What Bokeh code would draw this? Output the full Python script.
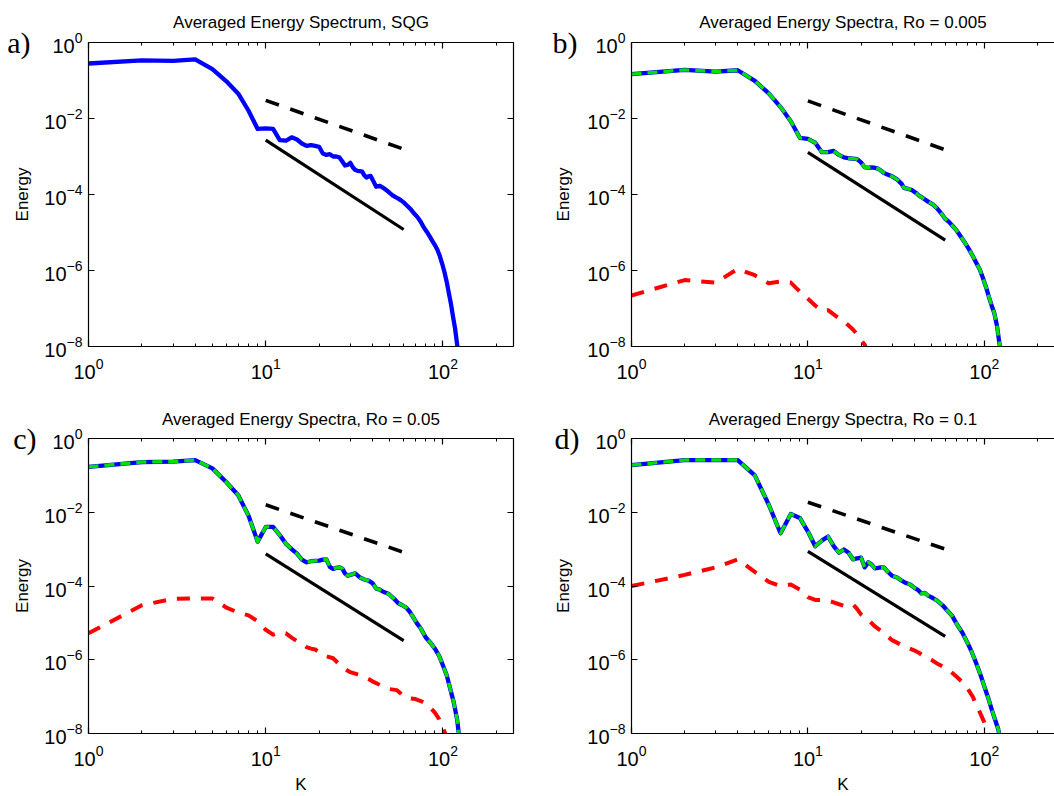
from bokeh.plotting import figure
from bokeh.models import FixedTicker, LogAxis, Range1d, CustomJSTickFormatter
from bokeh.layouts import gridplot
from bokeh.embed import file_html
from bokeh.resources import INLINE

FONT = "Liberation Sans"
SERIF = "Liberation Serif"

# ---------------- data ----------------
titles = ["Averaged Energy Spectrum, SQG",
          "Averaged Energy Spectra, Ro = 0.005",
          "Averaged Energy Spectra, Ro = 0.05",
          "Averaged Energy Spectra, Ro = 0.1"]
tags = ["a)", "b)", "c)", "d)"]

x_major = [1, 10, 100]
x_minor = [2, 3, 4, 5, 6, 7, 8, 9, 20, 30, 40, 50, 60, 70, 80, 90, 200]
y_major = [1e-8, 1e-6, 1e-4, 1e-2, 1]

# reference slopes (k^-5/3 dashed, k^-3 solid)
ref_k = [10, 60]
ref53_a = [0.030, 1.56e-3]
ref3_a = [2.7e-3, 1.2e-5]
ref53_b = [0.029, 1.5e-3]
ref3_b = [1.28e-3, 6.3e-6]
ref53_c = [0.0159, 8.2e-4]
ref3_c = [7.4e-4, 3.3e-6]
ref53_d = [0.0187, 1.0e-3]
ref3_d = [8.7e-4, 4.3e-6]

# a) SQG
k_a = [1, 2, 3, 4, 5, 6, 7, 8, 9, 10, 11, 12, 13, 14, 15, 16, 17, 18, 19, 20,
       21, 22, 23, 24, 25, 26, 27, 28, 29, 30, 31, 32, 33, 34, 35, 36, 37, 38, 39, 40,
       42, 44, 46, 48, 50, 52, 54, 56, 58, 60,
       63, 66, 69, 72, 75, 78, 81, 84, 87, 90, 93, 96, 99, 102, 105, 108, 111, 114, 117, 120, 122]
e_a = [0.28, 0.34, 0.33, 0.36, 0.20, 0.095, 0.045, 0.016, 0.0053, 0.0055,
       0.0053, 0.0027, 0.0026, 0.0032, 0.0028, 0.0022, 0.0019, 0.0020, 0.0019, 0.0018,
       0.0012, 0.0011, 0.00115, 0.0010, 0.0010, 0.00095, 0.00075, 0.00058, 0.00060, 0.00068,
       0.00052, 0.00044, 0.00042, 0.00041, 0.00040, 0.00032, 0.00028, 0.00030, 0.00031, 0.00025,
       0.00016, 0.00017, 0.00015, 0.00013, 0.00011, 9.5e-5, 8.5e-5, 7.8e-5, 7.0e-5, 6.2e-5,
       5.0e-5, 4.0e-5, 3.1e-5, 2.5e-5, 1.9e-5, 1.35e-5, 1.05e-5, 8.0e-6, 6.0e-6, 4.7e-6,
       3.5e-6, 2.4e-6, 1.5e-6, 9e-7, 5e-7, 2.5e-7, 1.3e-7, 6e-8, 3e-8, 1.2e-8, 6e-9]

# b) Ro = 0.005
k_b = [1, 2, 3, 4, 5, 6, 7, 8, 9, 10, 11, 12, 13, 14, 15, 16, 17, 18, 19, 20,
       21, 22, 23, 24, 25, 26, 27, 28, 30, 32, 34, 35, 37, 39, 41, 43, 45,
       48, 51, 54, 57, 60, 63, 66, 70, 74, 78, 82, 86, 90, 94, 98, 102, 106, 110, 114, 118, 121, 124]
e_b_total = [0.147, 0.19, 0.172, 0.186, 0.098, 0.046, 0.020, 0.0085, 0.0031, 0.0029,
             0.0023, 0.0013, 0.0013, 0.0014, 0.0011, 0.00095, 0.00090, 0.00088, 0.00085, 0.00070,
             0.00052, 0.00051, 0.00052, 0.00050, 0.00048, 0.00042, 0.00037, 0.00034,
             0.00030, 0.00025, 0.00019, 0.00015, 0.00014, 0.00013, 0.00011, 9.0e-5, 8.0e-5,
             6.5e-5, 5.5e-5, 4.3e-5, 3.2e-5, 2.3e-5, 1.9e-5, 1.5e-5,
             1.1e-5, 7.5e-6, 5.2e-6, 3.6e-6, 2.4e-6, 1.6e-6, 1.1e-6, 6.5e-7, 3.8e-7, 2.1e-7,
             1.2e-7, 7.5e-8, 3.5e-8, 1.5e-8, 7e-9]
e_b_balanced = [0.147, 0.19, 0.172, 0.186, 0.098, 0.046, 0.020, 0.0085, 0.0031, 0.0029,
                0.0023, 0.0013, 0.0013, 0.0014, 0.0011, 0.00095, 0.00090, 0.00088, 0.00085, 0.00070,
                0.00052, 0.00051, 0.00052, 0.00050, 0.00048, 0.00042, 0.00037, 0.00034,
                0.00030, 0.00025, 0.00019, 0.00015, 0.00014, 0.00013, 0.00011, 9.0e-5, 8.0e-5,
                6.5e-5, 5.5e-5, 4.3e-5, 3.2e-5, 2.3e-5, 1.9e-5, 1.5e-5,
                1.1e-5, 7.5e-6, 5.2e-6, 3.6e-6, 2.4e-6, 1.6e-6, 1.1e-6, 6.5e-7, 3.8e-7, 2.1e-7,
                1.2e-7, 7.5e-8, 3.5e-8, 1.5e-8, 7e-9]
k_b_red = [1, 2, 3, 4, 5, 6, 7, 8, 9, 10, 11, 12, 13, 14, 15, 16, 17, 18, 19, 20, 21, 22]
e_b_red = [2.2e-7, 5.6e-7, 4.8e-7, 1.1e-6, 7.5e-7, 4.6e-7, 5.1e-7, 4.8e-7, 2.8e-7, 1.8e-7,
           1.2e-7, 8.7e-8, 9e-8, 7e-8, 5.5e-8, 4.5e-8, 3.6e-8, 2.8e-8, 2.1e-8, 1.5e-8, 1.1e-8, 7e-9]

# c) Ro = 0.05
k_c = [1, 2, 3, 4, 5, 6, 7, 8, 9, 10, 11, 12, 13, 14, 15, 16, 17, 18, 19, 20,
       21, 22, 23, 24, 25, 26, 27, 28, 29, 30, 32, 34, 36, 38, 40, 42, 44, 46, 48, 50,
       53, 56, 59, 62, 65, 68, 71, 75, 80, 85, 90, 95, 100, 105, 110, 115, 120, 124]
e_c_total = [0.17, 0.23, 0.235, 0.26, 0.155, 0.065, 0.029, 0.008, 0.0016, 0.0040,
             0.0040, 0.0024, 0.0014, 0.0010, 0.00075, 0.00052, 0.00044, 0.00047, 0.00048, 0.00049,
             0.00052, 0.00053, 0.00033, 0.00029, 0.00031, 0.00032, 0.00030, 0.00022, 0.00019, 0.00020,
             0.00022, 0.00017, 0.00015, 0.00014, 0.00012, 8.5e-5, 8.0e-5, 7.0e-5, 6.5e-5, 5.8e-5,
             4.5e-5, 3.4e-5, 3.0e-5, 2.6e-5, 2.0e-5, 1.4e-5, 1.0e-5,
             7.0e-6, 4.0e-6, 2.9e-6, 2.0e-6, 1.3e-6, 7.0e-7, 3.8e-7, 1.6e-7, 7.0e-8, 2.5e-8, 7e-9]
e_c_balanced = [0.17, 0.23, 0.235, 0.26, 0.155, 0.065, 0.029, 0.008, 0.0016, 0.0040,
                0.0040, 0.0024, 0.0014, 0.0010, 0.00075, 0.00052, 0.00044, 0.00047, 0.00048, 0.00049,
                0.00052, 0.00053, 0.00033, 0.00029, 0.00031, 0.00032, 0.00030, 0.00022, 0.00019, 0.00020,
                0.00022, 0.00017, 0.00015, 0.00014, 0.00012, 8.5e-5, 8.0e-5, 7.0e-5, 6.5e-5, 5.8e-5,
                4.5e-5, 3.4e-5, 3.0e-5, 2.6e-5, 2.0e-5, 1.4e-5, 1.0e-5,
                7.0e-6, 4.0e-6, 2.9e-6, 2.0e-6, 1.3e-6, 7.0e-7, 3.8e-7, 1.6e-7, 7.0e-8, 2.5e-8, 7e-9]
k_c_red = [1, 2, 3, 4, 5, 6, 7, 8, 9, 10, 11, 12, 13, 14, 15, 16, 17, 18, 19, 20, 21, 22,
           24, 26, 28, 30, 32, 35, 38, 40, 43, 46, 50, 55, 58, 61, 65, 70, 75, 80, 85, 90, 95, 100, 104, 107]
e_c_red = [5.2e-6, 3.0e-5, 4.5e-5, 4.6e-5, 4.6e-5, 2.6e-5, 1.9e-5, 1.6e-5, 1.1e-5, 6.5e-6,
           4.8e-6, 5.5e-6, 5.2e-6, 4.0e-6, 3.2e-6, 2.7e-6, 2.2e-6, 2.0e-6, 1.9e-6, 1.6e-6,
           1.3e-6, 1.25e-6, 1.1e-6, 7.5e-7, 5.6e-7, 4.6e-7, 4.2e-7, 3.6e-7, 3.0e-7, 2.6e-7,
           2.2e-7, 1.9e-7, 1.6e-7, 1.5e-7, 1.2e-7, 9.5e-8, 9.0e-8, 8.6e-8, 7.6e-8, 6.5e-8,
           5.0e-8, 3.7e-8, 2.5e-8, 1.4e-8, 9e-9, 6e-9]

# d) Ro = 0.1
k_d = [1, 2, 3, 4, 5, 6, 7, 8, 9, 10, 11, 12, 13, 14, 15, 16, 17, 18, 19, 20,
       21, 22, 23, 24, 25, 26, 27, 28, 30, 32, 34, 36, 38, 40, 42, 44, 46, 48, 50,
       54, 58, 62, 66, 70, 75, 80, 85, 90, 95, 100, 105, 110, 115, 120, 123]
e_d_total = [0.19, 0.26, 0.26, 0.26, 0.10, 0.016, 0.0027, 0.0090, 0.0070, 0.0030,
             0.0012, 0.0017, 0.0022, 0.0012, 0.0008, 0.00098, 0.00080, 0.00053, 0.00056, 0.00059,
             0.00032, 0.00044, 0.00038, 0.00030, 0.00031, 0.00032, 0.00032, 0.00026,
             0.00019, 0.00017, 0.00014, 0.00012, 0.00011, 9.0e-5, 7.9e-5, 6.3e-5, 6.5e-5, 5.5e-5, 5.0e-5,
             4.0e-5, 3.0e-5, 2.1e-5, 1.5e-5, 9.0e-6, 5.5e-6, 3.0e-6, 1.6e-6, 8.0e-7, 4.0e-7,
             1.9e-7, 9.5e-8, 4.6e-8, 2.4e-8, 1.3e-8, 7e-9]
e_d_balanced = [0.19, 0.26, 0.26, 0.26, 0.10, 0.016, 0.0027, 0.0090, 0.0070, 0.0030,
                0.0012, 0.0017, 0.0022, 0.0012, 0.0008, 0.00098, 0.00080, 0.00053, 0.00056, 0.00059,
                0.00032, 0.00044, 0.00038, 0.00030, 0.00031, 0.00032, 0.00032, 0.00026,
                0.00019, 0.00017, 0.00014, 0.00012, 0.00011, 9.0e-5, 7.9e-5, 6.3e-5, 6.5e-5, 5.5e-5, 5.0e-5,
                4.0e-5, 3.0e-5, 2.1e-5, 1.5e-5, 9.0e-6, 5.5e-6, 3.0e-6, 1.6e-6, 8.0e-7, 4.0e-7,
                1.9e-7, 9.5e-8, 4.6e-8, 2.4e-8, 1.3e-8, 7e-9]
k_d_red = [1, 2, 3, 4, 5, 6, 7, 8, 9, 10, 11, 12, 13, 14, 15, 16, 17, 18, 19, 20,
           22, 24, 26, 28, 30, 33, 36, 40, 43, 46, 50, 55, 60, 65, 70, 75, 80, 86, 90, 95, 100, 104, 107]
e_d_red = [1.0e-4, 2.0e-4, 3.2e-4, 5.3e-4, 2.4e-4, 1.3e-4, 1.0e-4, 1.1e-4, 8.0e-5, 5.0e-5,
           4.2e-5, 4.2e-5, 4.0e-5, 3.6e-5, 3.2e-5, 2.9e-5, 3.0e-5, 3.2e-5, 2.4e-5, 1.7e-5,
           1.2e-5, 8.0e-6, 6.0e-6, 4.5e-6, 3.4e-6, 2.7e-6, 2.2e-6, 1.8e-6, 1.5e-6, 1.2e-6,
           1.0e-6, 7.5e-7, 6.0e-7, 4.6e-7, 3.4e-7, 2.5e-7, 1.7e-7, 1.0e-7, 6.0e-8, 3.5e-8,
           2.0e-8, 1.2e-8, 6e-9]


# ---------------- plotting ----------------
def style_axis(ax, is_x, show_labels):
    ax.ticker = FixedTicker(ticks=x_major if is_x else y_major,
                            minor_ticks=x_minor if is_x else [])
    ax.axis_line_color = "black"
    ax.axis_line_width = 1.2
    ax.major_tick_line_color = "black"
    ax.major_tick_line_width = 1.2
    ax.major_tick_in = 6
    ax.major_tick_out = 0
    ax.minor_tick_line_color = "black"
    ax.minor_tick_line_width = 1.0
    ax.minor_tick_in = 3
    ax.minor_tick_out = 0
    if show_labels:
        ax.major_label_text_font = FONT
        ax.major_label_text_font_size = "20px"
        ax.major_label_text_color = "black"
        ax.major_label_standoff = 11 if is_x else 6
    else:
        ax.major_label_text_font_size = "1px"
        ax.major_label_text_color = None
        ax.major_label_standoff = 0


# tag_geom = (standoff of the panel tag from the y tick labels,
#             standoff of the "Energy" label, negative = pulled inwards)
def make_panel(i, k_main, e_main, e_green, k_red, e_red, r53, r3, tag_geom):
    right_col = i in (1, 3)
    bottom_row = i in (2, 3)
    p = figure(width=523 if right_col else 531, height=398,
               x_axis_type="log", y_axis_type="log",
               x_range=Range1d(1, 250), y_range=Range1d(1e-8, 1),
               min_border_left=100 if right_col else 88,
               min_border_right=0 if right_col else 18,
               min_border_top=38 if bottom_row else 42,
               min_border_bottom=56 if bottom_row else 52,
               output_backend="svg", toolbar_location=None, title=titles[i])
    p.outline_line_color = None
    p.xgrid.visible = False
    p.ygrid.visible = False
    p.background_fill_color = "white"
    p.border_fill_color = "white"

    p.title.text_font = FONT
    p.title.text_font_size = "17px"
    p.title.text_font_style = "normal"
    p.title.align = "center"
    p.title.text_color = "black"
    p.title.standoff = 19 if bottom_row else 21

    style_axis(p.xaxis[0], True, True)
    style_axis(p.yaxis[0], False, True)
    if bottom_row:
        p.xaxis[0].axis_label = "K"
        p.xaxis[0].axis_label_text_font = FONT
        p.xaxis[0].axis_label_text_font_size = "17px"
        p.xaxis[0].axis_label_text_font_style = "normal"
        p.xaxis[0].axis_label_text_color = "black"
        p.xaxis[0].axis_label_standoff = 6

    # outer left axis: carries the panel tag (at the top tick) and the "Energy" label
    tag_ax = LogAxis(ticker=FixedTicker(ticks=[1], minor_ticks=[]),
                     formatter=CustomJSTickFormatter(code="return '%s'" % tags[i]))
    tag_ax.axis_line_color = None
    tag_ax.major_tick_line_color = None
    tag_ax.minor_tick_line_color = None
    tag_ax.major_tick_in = 0
    tag_ax.major_tick_out = 0
    tag_ax.minor_tick_in = 0
    tag_ax.minor_tick_out = 0
    tag_ax.major_label_text_font = SERIF
    tag_ax.major_label_text_font_size = "30px"
    tag_ax.major_label_text_color = "black"
    tag_ax.major_label_standoff = tag_geom[0]
    tag_ax.axis_label = "Energy"
    tag_ax.axis_label_text_font = FONT
    tag_ax.axis_label_text_font_size = "17px"
    tag_ax.axis_label_text_font_style = "normal"
    tag_ax.axis_label_text_color = "black"
    tag_ax.axis_label_standoff = tag_geom[1]
    p.add_layout(tag_ax, "left")

    top = LogAxis()
    style_axis(top, True, False)
    p.add_layout(top, "above")
    if not right_col:
        rgt = LogAxis()
        style_axis(rgt, False, False)
        p.add_layout(rgt, "right")

    p.line(ref_k, r53, line_color="black", line_width=3.6, line_dash="14 12")
    p.line(ref_k, r3, line_color="black", line_width=3.2)
    if k_red is not None:
        p.line(k_red, e_red, line_color="red", line_width=4, line_dash="13 11",
               line_join="round")
    p.line(k_main, e_main, line_color="blue", line_width=4.3, line_join="round")
    if e_green is not None:
        p.line(k_main, e_green, line_color="#00e000", line_width=3.4,
               line_dash="10 6", line_join="round")
    return p


pa = make_panel(0, k_a, e_a, None, None, None, ref53_a, ref3_a, (11, -28))
pb = make_panel(1, k_b, e_b_total, e_b_balanced, k_b_red, e_b_red, ref53_b, ref3_b, (7, -23))
pc = make_panel(2, k_c, e_c_total, e_c_balanced, k_c_red, e_c_red, ref53_c, ref3_c, (5, -22))
pd = make_panel(3, k_d, e_d_total, e_d_balanced, k_d_red, e_d_red, ref53_d, ref3_d, (5, -21))

grid = gridplot([[pa, pb], [pc, pd]], toolbar_location=None)

with open("out.html", "w") as f:
    f.write(file_html(grid, INLINE))
